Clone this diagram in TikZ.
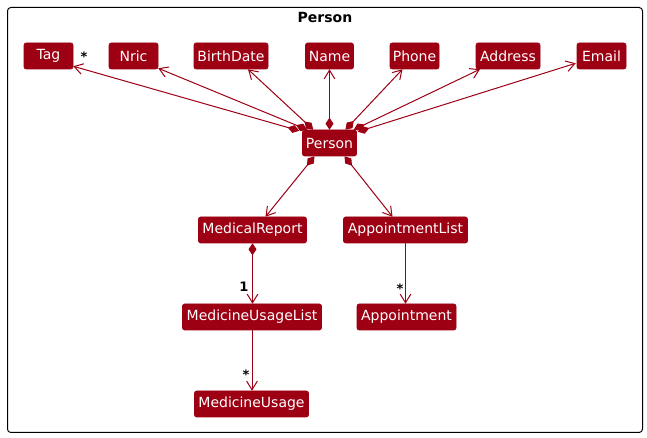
\documentclass[tikz,border=0pt]{standalone}
\usepackage{fontspec}
\setmainfont{DejaVu Sans}
\usetikzlibrary{arrows.meta,calc}
\definecolor{crim}{HTML}{9D0013}
\begin{document}
\begin{tikzpicture}[x=0.75pt,y=-0.75pt,
  cls/.style={fill=crim,draw=crim,rounded corners=1.5pt,text=white,font=\fontsize{10.5pt}{12pt}\selectfont,
     minimum height=19.5pt,inner xsep=1pt,inner ysep=0pt,anchor=center},
  comp/.style={draw=crim,line width=0.75pt,{Diamond[length=9pt,width=6pt,fill=crim]}-{Straight Barb[length=6.5pt,width=8pt]}},
  assoc/.style={draw=crim,line width=0.75pt,-{Straight Barb[length=6.5pt,width=8pt]}},
  mult/.style={font=\bfseries\fontsize{9.75pt}{11pt}\selectfont,text=black,inner sep=0pt}]
\useasboundingbox (0,0) rectangle (647,438);
\draw[rounded corners=2.5pt,line width=0.75pt] (7.5,7.5) rectangle (642.5,432.5);
\node[font=\bfseries\fontsize{10.5pt}{12pt}\selectfont] (title) at (325,17) {Person};
% top row
\node[cls,minimum width=36.75pt] (tag) at (48.5,56) {Tag};
\node[cls,minimum width=36.75pt] (nric) at (133.5,56) {Nric};
\node[cls,minimum width=55.5pt] (bd) at (231,56) {BirthDate};
\node[cls,minimum width=36pt] (name) at (329.5,56) {Name};
\node[cls,minimum width=36.75pt] (phone) at (414.5,56) {Phone};
\node[cls,minimum width=48pt] (addr) at (508,56) {Address};
\node[cls,minimum width=36.75pt] (email) at (601.5,56) {Email};
% person
\node[cls,minimum width=40.5pt] (p) at (329.5,143) {Person};
% lower
\node[cls,minimum width=81pt] (mr) at (252.5,230) {MedicalReport};
\node[cls,minimum width=93pt] (al) at (405.5,230) {AppointmentList};
\node[cls,minimum width=104.25pt] (mul) at (252,317) {MedicineUsageList};
\node[cls,minimum width=74.25pt] (ap) at (406.5,317) {Appointment};
\node[cls,minimum width=85.5pt] (mu) at (251.5,404) {MedicineUsage};
% edges from person to top row
\draw[comp] ($(p.north west)+(-3,1)$) -- ($(tag.south east)+(0,-3)$);
\draw[comp] ($(p.north west)+(5,0)$) -- ($(nric.south east)+(0,-1)$);
\draw[comp] ($(p.north west)+(11,0)$) -- ($(bd.south)+(17,0)$);
\draw[comp] (p.north) -- (name.south);
\draw[comp] ($(p.north)+(16,0)$) -- ($(phone.south)+(-12,0)$);
\draw[comp] ($(p.north east)+(-3,0)$) -- ($(addr.south)+(-28,0)$);
\draw[comp] ($(p.north east)+(1,2)$) -- ($(email.south west)+(-1,-6)$);
% lower edges
\draw[comp] ($(p.south)+(-15,0)$) -- ($(mr.north)+(13,0)$);
\draw[comp] ($(p.south)+(15,0)$) -- ($(al.north)+(-13,0)$);
\draw[comp] (mr.south) -- (mul.north -| mr.south);
\draw[assoc] (al.south) -- (ap.north -| al.south);
\draw[assoc] (mul.south) -- (mu.north -| mul.south);
% multiplicities
\node[mult] (m1) at (84,57) {*};
\node[mult] (m2) at (244,287) {1};
\node[mult] (m3) at (400,289) {*};
\node[mult] (m4) at (246,375) {*};
\end{tikzpicture}
\end{document}
